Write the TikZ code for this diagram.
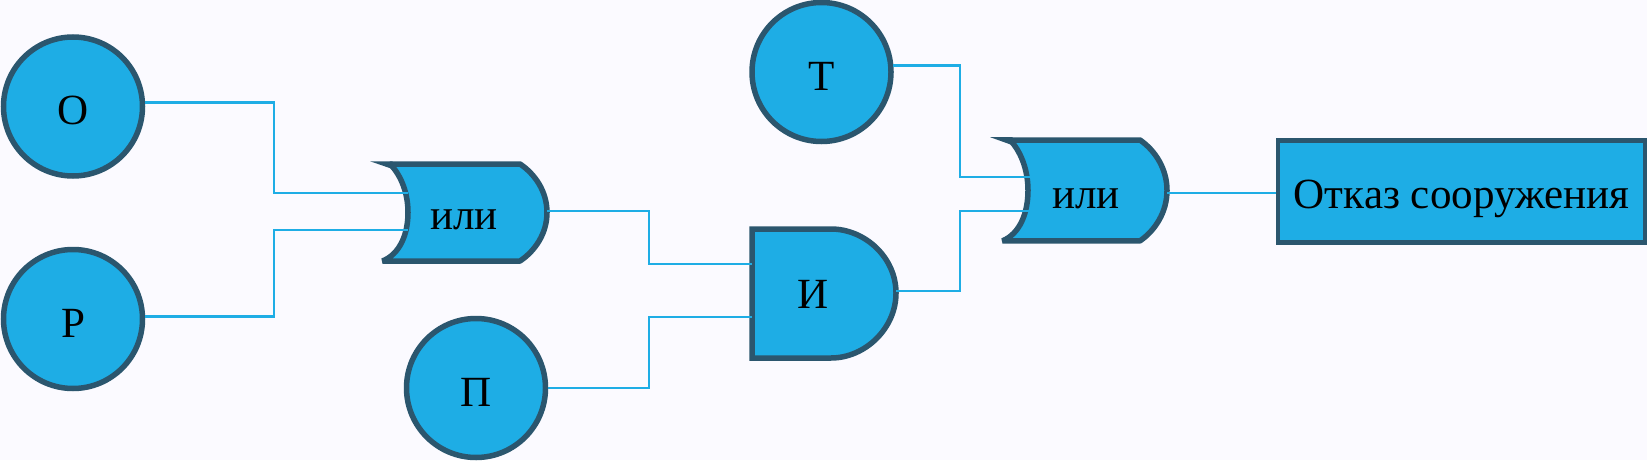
\documentclass[tikz,border=0pt]{standalone}
\usepackage{fontspec}
\setmainfont{Liberation Serif}
\usetikzlibrary{positioning, calc}

\definecolor{gatefill}{HTML}{1EADE5}
\definecolor{gateline}{HTML}{2B566E}
\definecolor{pagebg}{HTML}{FBFAFF}

\begin{document}
\begin{tikzpicture}[
    font=\fontsize{24.5}{30}\selectfont,
    gate/.style={draw=gateline, fill=gatefill, line width=0.11cm},
    event/.style={gate, circle, minimum size=2.78cm, inner sep=0pt, text height=0.72cm, text depth=0pt},
    result/.style={gate, rectangle, line width=0.09cm, minimum width=7.34cm, minimum height=2.04cm, inner sep=0pt, text height=0.66cm, text depth=0pt},
    caption/.style={inner sep=0pt, text height=0.68cm, text depth=0pt},
    wire/.style={draw=gatefill, line width=0.055cm},
    orgate/.pic={
        \path[gate, line join=bevel] (0.4,0) -- (3.0,0)
            .. controls (3.3,-0.2) and (3.54,-0.55) .. (3.54,-0.97)
            .. controls (3.54,-1.39) and (3.3,-1.74) .. (3.0,-1.94)
            -- (0.25,-1.94)
            .. controls (0.6,-1.8) and (0.76,-1.4) .. (0.76,-0.97)
            .. controls (0.76,-0.55) and (0.6,-0.2) .. (0.4,0) -- cycle;
        \fill[gateline] (0,0.055) -- (0.45,0.055) -- (0.45,-0.1) -- cycle;
    }
]

\fill[pagebg] (0,0) rectangle (32.94,9.2);
\useasboundingbox (0,0) rectangle (32.94,9.2);

% Events
\node[event] (circO) at (1.46,7.07) {О};
\node[event] (circR) at (1.46,2.82) {Р};
\node[event] (circP) at (9.52,1.44) {П};
\node[event] (circT) at (16.43,7.76) {Т};

% Gates
\pic at (7.4,5.92) {orgate};
\node[caption] (orA) at (9.28,4.95) {или};
\pic[yscale=1.04] at (19.8,6.4) {orgate};
\node[caption] (orB) at (21.72,5.37) {или};
\path[gate] (15.04,4.62) -- (16.62,4.62)
    .. controls (17.3,4.62) and (17.92,4.05) .. (17.92,3.34)
    .. controls (17.92,2.63) and (17.3,2.04) .. (16.62,2.04)
    -- (15.04,2.04) -- cycle;
\node[caption] (andA) at (16.26,3.37) {И};

% Result
\node[result] (failure) at (29.23,5.37) {Отказ сооружения};

% Pins and bends
\coordinate (pinOrA1) at (8.16,5.34);
\coordinate (pinOrA2) at (8.16,4.6);
\coordinate (outOrA) at (10.94,4.98);
\coordinate (pinAnd1) at (15.04,3.92);
\coordinate (pinAnd2) at (15.04,2.86);
\coordinate (outAnd) at (17.92,3.38);
\coordinate (pinOrB1) at (20.6,5.66);
\coordinate (pinOrB2) at (20.6,4.98);
\coordinate (outOrB) at (23.34,5.34);
\coordinate (bendO) at (5.48,5.34);
\coordinate (bendR) at (5.48,4.6);
\coordinate (bendA) at (12.98,3.92);
\coordinate (bendP) at (12.98,2.86);
\coordinate (bendT) at (19.2,5.66);
\coordinate (bendB) at (19.2,4.98);

% Wires
\draw[wire] (circO.3) -| (bendO) -- (pinOrA1);
\draw[wire] (circR.2) -| (bendR) -- (pinOrA2);
\draw[wire] (outOrA) -| (bendA) -- (pinAnd1);
\draw[wire] (circP.east) -| (bendP) -- (pinAnd2);
\draw[wire] (circT.5) -| (bendT) -- (pinOrB1);
\draw[wire] (outAnd) -| (bendB) -- (pinOrB2);
\draw[wire] (outOrB) -- (outOrB -| failure.west);

\end{tikzpicture}
\end{document}
